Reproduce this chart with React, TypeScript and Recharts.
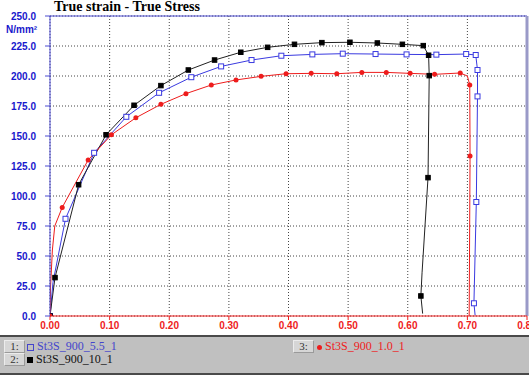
import React from 'react';
import {
  LineChart,
  Line,
  XAxis,
  YAxis,
  CartesianGrid,
  ReferenceLine,
} from 'recharts';

// true strain / true stress curves; m: 0 = curve point without marker
const blueSeries = [
  { x: 0, y: 0 },
  { x: 0.005, y: 28, m: 0 },
  { x: 0.026, y: 81 },
  { x: 0.074, y: 136 },
  { x: 0.128, y: 166 },
  { x: 0.183, y: 186 },
  { x: 0.237, y: 199 },
  { x: 0.287, y: 208 },
  { x: 0.338, y: 213.3 },
  { x: 0.388, y: 216.9 },
  { x: 0.44, y: 218 },
  { x: 0.491, y: 218.6 },
  { x: 0.546, y: 218.3 },
  { x: 0.598, y: 218 },
  { x: 0.648, y: 217.8 },
  { x: 0.698, y: 218.3 },
  { x: 0.714, y: 217.5 },
  { x: 0.717, y: 205 },
  { x: 0.717, y: 183 },
  { x: 0.715, y: 95 },
  { x: 0.711, y: 10.6 },
  { x: 0.713, y: 0.5, m: 0 },
];

const blackSeries = [
  { x: 0, y: 0 },
  { x: 0.0084, y: 32 },
  { x: 0.048, y: 109.4 },
  { x: 0.094, y: 151 },
  { x: 0.141, y: 175.6 },
  { x: 0.186, y: 192 },
  { x: 0.232, y: 205 },
  { x: 0.276, y: 213.3 },
  { x: 0.32, y: 219.8 },
  { x: 0.365, y: 223.9 },
  { x: 0.41, y: 226.4 },
  { x: 0.456, y: 227.8 },
  { x: 0.503, y: 228.1 },
  { x: 0.549, y: 227.5 },
  { x: 0.591, y: 226.4 },
  { x: 0.626, y: 225.3 },
  { x: 0.635, y: 217.3 },
  { x: 0.636, y: 200.3 },
  { x: 0.634, y: 115.3 },
  { x: 0.624, y: 36, m: 0 },
  { x: 0.622, y: 16.7 },
  { x: 0.625, y: 2, m: 0 },
];

const redSeries = [
  { x: 0, y: 0 },
  { x: 0.001, y: 25, m: 0 },
  { x: 0.004, y: 55, m: 0 },
  { x: 0.008, y: 75, m: 0 },
  { x: 0.0205, y: 90.5 },
  { x: 0.064, y: 130 },
  { x: 0.103, y: 151 },
  { x: 0.144, y: 165.2 },
  { x: 0.186, y: 176.4 },
  { x: 0.228, y: 185.3 },
  { x: 0.2705, y: 192.5 },
  { x: 0.312, y: 196.7 },
  { x: 0.354, y: 199.7 },
  { x: 0.396, y: 201.9 },
  { x: 0.438, y: 202.2 },
  { x: 0.481, y: 201.9 },
  { x: 0.523, y: 203 },
  { x: 0.564, y: 203 },
  { x: 0.604, y: 202.2 },
  { x: 0.645, y: 201.4 },
  { x: 0.688, y: 202.5 },
  { x: 0.7, y: 200, m: 0 },
  { x: 0.704, y: 192.5 },
  { x: 0.7045, y: 133.3 },
  { x: 0.703, y: 0, m: 0 },
];

const xTicks = [0, 0.1, 0.2, 0.3, 0.4, 0.5, 0.6, 0.7, 0.8];
const yTicks = [0, 25, 50, 75, 100, 125, 150, 175, 200, 225, 250];

const seriesNames = ['St3S_900_5.5_1', 'St3S_900_10_1', 'St3S_900_1.0_1'];

const BLUE = '#3a3ae0';
const RED = '#ee1c1c';

const squareDot = (fill: string, stroke: string, size: number) => (props: any) => {
  const { cx, cy, payload, index } = props;
  if (payload.m === 0 || cx == null) return <g key={index} />;
  const h = size / 2;
  return (
    <rect key={index} x={cx - h} y={cy - h} width={size} height={size} fill={fill} stroke={stroke} strokeWidth={1} />
  );
};

const circleDot = (props: any) => {
  const { cx, cy, payload, index } = props;
  if (payload.m === 0 || cx == null) return <g key={index} />;
  return <circle key={index} cx={cx} cy={cy} r={2.5} fill={RED} stroke="none" />;
};

const boxStyle: React.CSSProperties = {
  position: 'absolute',
  width: 19,
  height: 11,
  background: '#d6d6d6',
  borderTop: '1px solid #ececec',
  borderLeft: '1px solid #ececec',
  borderRight: '1px solid #9a9a9a',
  borderBottom: '1px solid #9a9a9a',
  fontSize: 11,
  lineHeight: '11px',
  textAlign: 'center',
  color: '#333',
};

export default function App() {
  return (
    <div style={{ position: 'relative', width: 529, height: 375, background: '#fff', overflow: 'hidden', fontFamily: '"Liberation Serif", serif' }}>
      <style>{'body{margin:0}'}</style>
      <LineChart width={529} height={375} margin={{ top: 16, right: 2, bottom: 39, left: 0 }}>
        <CartesianGrid stroke="#444" strokeDasharray="1 2" horizontalValues={yTicks} verticalValues={xTicks} />
        <XAxis
          type="number"
          dataKey="x"
          domain={[0, 0.8]}
          ticks={xTicks}
          interval={0}
          allowDataOverflow
          height={20}
          tickSize={4}
          tickMargin={2}
          tickFormatter={(v: number) => v.toFixed(2)}
          tick={{ fill: RED, fontSize: 10, fontWeight: 'bold', fontFamily: '"Liberation Sans", Arial' }}
          axisLine={{ stroke: RED }}
          tickLine={{ stroke: RED }}
        />
        <YAxis
          type="number"
          dataKey="y"
          domain={[0, 250]}
          ticks={yTicks}
          interval={0}
          allowDataOverflow
          width={50}
          tickSize={5}
          tickMargin={9}
          tickFormatter={(v: number) => v.toFixed(1)}
          tick={{ fill: '#1818cc', fontSize: 10, fontWeight: 'bold', fontFamily: '"Liberation Sans", Arial' }}
          axisLine={{ stroke: '#4a4ad0' }}
          tickLine={{ stroke: '#4a4ad0' }}
        />
        <ReferenceLine y={250} stroke="#4a4ad0" />
        <ReferenceLine x={0.8} stroke="#9a9ac8" strokeWidth={3} />
        <Line
          data={blueSeries}
          dataKey="y"
          type="linear"
          stroke={BLUE}
          strokeWidth={1}
          dot={squareDot('#fff', BLUE, 5)}
          isAnimationActive={false}
        />
        <Line
          data={blackSeries}
          dataKey="y"
          type="linear"
          stroke="#222"
          strokeWidth={1}
          dot={squareDot('#000', '#000', 4.5)}
          isAnimationActive={false}
        />
        <Line
          data={redSeries}
          dataKey="y"
          type="linear"
          stroke={RED}
          strokeWidth={1}
          dot={circleDot}
          isAnimationActive={false}
        />
      </LineChart>

      <div style={{ position: 'absolute', left: 54, top: -1, fontSize: 14, fontWeight: 'bold', color: '#000' }}>
        True strain - True Stress
      </div>
      <div style={{ position: 'absolute', left: 6, top: 24, fontSize: 10, fontWeight: 'bold', color: '#1818cc', fontFamily: '"Liberation Sans", Arial' }}>
        N/mm²
      </div>

      <div style={{ position: 'absolute', left: 0, top: 335, width: 529, height: 40, background: '#c0c0c0', borderTop: '2px solid #4a4a4a' }}>
        <div style={{ position: 'absolute', left: 0, top: 36, width: 529, height: 2, background: '#4a4a4a' }} />
        <div style={{ ...boxStyle, left: 4, top: 3 }}>1:</div>
        <div style={{ ...boxStyle, left: 4, top: 16 }}>2:</div>
        <div style={{ ...boxStyle, left: 293, top: 3 }}>3:</div>
        <div style={{ position: 'absolute', left: 27, top: 2, fontSize: 12, color: '#4444cc', whiteSpace: 'nowrap' }}>
          <span style={{ display: 'inline-block', width: 5, height: 5, border: '1px solid #4444cc', marginRight: 3, verticalAlign: 'middle' }} />
          {seriesNames[0]}
        </div>
        <div style={{ position: 'absolute', left: 27, top: 15, fontSize: 12, color: '#111', whiteSpace: 'nowrap' }}>
          <span style={{ display: 'inline-block', width: 6, height: 6, background: '#000', marginRight: 3, verticalAlign: 'middle' }} />
          {seriesNames[1]}
        </div>
        <div style={{ position: 'absolute', left: 317, top: 2, fontSize: 12, color: RED, whiteSpace: 'nowrap' }}>
          <span style={{ display: 'inline-block', width: 5, height: 5, borderRadius: 3, background: RED, marginRight: 3, verticalAlign: 'middle' }} />
          {seriesNames[2]}
        </div>
      </div>
    </div>
  );
}
